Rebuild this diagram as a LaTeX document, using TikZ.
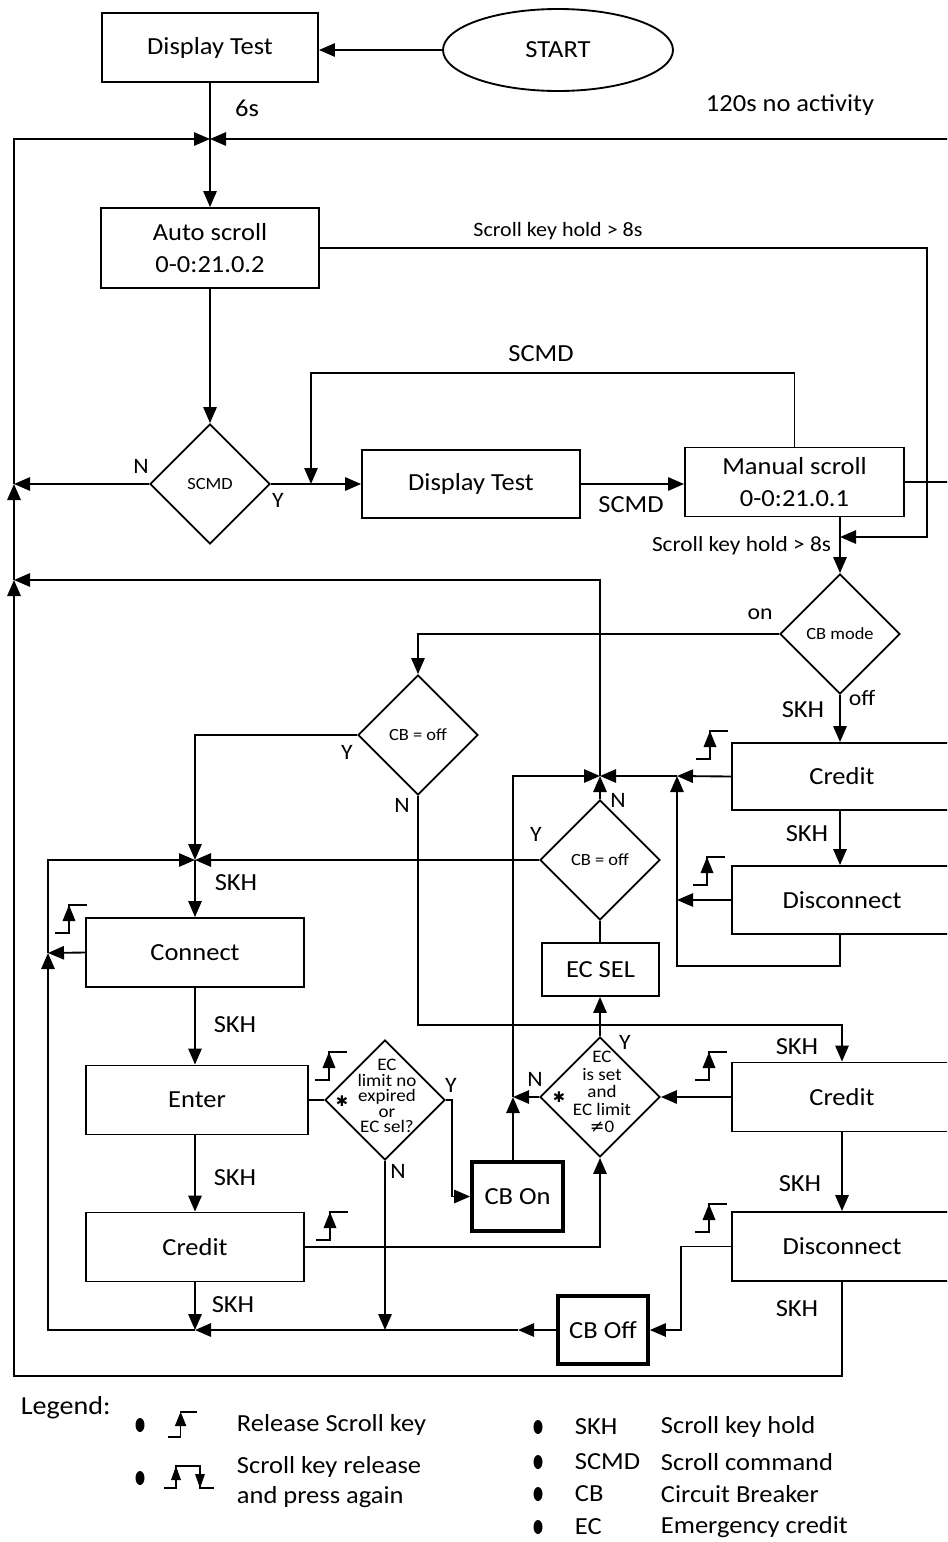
\documentclass[tikz,border=0pt]{standalone}
\usepackage{fontspec}
\setmainfont{Carlito}[FakeStretch=1.08]
\newfontfamily\djv{DejaVu Sans}
\usetikzlibrary{shapes.geometric,arrows.meta}
\newcommand\fbig{\fontsize{18.4}{22}\selectfont}
\newcommand\ftwo{\fontsize{18.4}{24}\selectfont}
\newcommand\flab{\fontsize{16.5}{19}\selectfont}
\newcommand\fsm{\fontsize{12.8}{15}\selectfont}
\newcommand\fskA{\fontsize{15.3}{18}\selectfont}
\newcommand\fskB{\fontsize{16.2}{19}\selectfont}
\newcommand\fdia{\fontsize{13.2}{11.6}\selectfont}
\newcommand\fdib{\fontsize{13.2}{13.1}\selectfont}
\newcommand\fleg{\fontsize{19.5}{22}\selectfont}
\begin{document}
\begin{tikzpicture}[x=0.75pt,y=-0.75pt,line width=1.4pt,
  arr/.style={-{Triangle[length=12pt,width=10pt]}},
  box/.style args={#1/#2}{draw,rectangle,minimum width=#1*0.75pt,minimum height=#2*0.75pt,inner sep=0pt,font=\fbig},
  tbox/.style args={#1/#2}{draw,rectangle,line width=2.8pt,minimum width=#1*0.75pt,minimum height=#2*0.75pt,inner sep=0pt,font=\fbig},
  dia/.style={draw,diamond,aspect=1,minimum width=90pt,minimum height=90pt,inner sep=0pt,font=\fsm},
  lab/.style={font=\flab,inner sep=0pt},
  skh/.style={font=\fbig,inner sep=0pt},
  relkey/.pic={
    \draw[line width=1.2pt] (0,0) -- (14,0) -- (14,-28) -- (32,-28);
    \fill (14,-28) -- (7.5,-12) -- (20.5,-12) -- cycle;},
  relpress/.pic={
    \draw[line width=1.2pt] (0,0) -- (12,0) -- (12,-22) -- (36,-22) -- (36,0) -- (50,0);
    \fill (12,-22) -- (7,-8) -- (17,-8) -- cycle;
    \fill (36,0) -- (31,-14) -- (41,-14) -- cycle;}
]
\fill[white] (0,0) rectangle (947,1542);
\useasboundingbox (0,0) rectangle (947,1542);
\clip (0,0) rectangle (947,1542);

% ---------- nodes ----------
\node[box=216/69] (dt1) at (210,47.5) {Display Test};
\node[draw,ellipse,minimum width=172.5pt,minimum height=61.5pt,inner sep=0pt,font=\fbig] (start) at (558,50) {START};
\node[box=218/80,align=center,font=\ftwo] (as) at (210,248) {Auto scroll\\0-0:21.0.2};
\node[dia] (scmd) at (210,484) {SCMD};
\node[box=218/68] (dt2) at (471,484) {Display Test};
\node[box=219/69,align=center,font=\ftwo] (ms) at (794.5,482) {Manual scroll\\0-0:21.0.1};
\node[dia] (cbm) at (840,634) {CB mode};
\node[box=220/67] (crr) at (842,776.5) {Credit};
\node[box=220/68] (dcr) at (842,900) {Disconnect};
\node[dia] (cbo1) at (418,735) {CB = off};
\node[dia] (cbo2) at (600,860) {CB = off};
\node[box=117/53] (ecsel) at (600.5,969.5) {EC SEL};
\node[dia] (ecd) at (600,1097) {};
\node[box=220/69] (cr2) at (842,1097) {Credit};
\node[box=220/69] (dc2) at (842,1246.5) {Disconnect};
\node[tbox=90/68] (cboff) at (603,1330) {CB Off};
\node[tbox=91/69] (cbon) at (517.5,1196.5) {CB On};
\node[dia] (eld) at (385,1100) {};
\node[box=218/69] (conn) at (195,952.5) {Connect};
\node[box=222/69] (ent) at (197,1100) {Enter};
\node[box=218/69] (cr1) at (195,1247) {Credit};

\node[font=\fdia,align=center,inner sep=0pt] (eldt) at (387,1096) {EC\\limit no\\expired\\or\\EC sel?};
\node[font=\fdib,align=center,inner sep=0pt] (ecdt) at (602,1092) {EC\\is set\\and\\EC limit\\{\djv ≠}0};
\node[font={\djv\fontsize{11}{11}\selectfont},inner sep=0pt] (star1) at (342,1101) {✱};
\node[font={\djv\fontsize{11}{11}\selectfont},inner sep=0pt] (star2) at (559,1097) {✱};

% ---------- coordinates ----------
\coordinate (j1) at (210,139);
\coordinate (j2) at (600,776);
\coordinate (j3) at (677,776);
\coordinate (j4) at (195,860);
\coordinate (j5) at (195,1330);
\coordinate (jN) at (513,1097);

% ---------- connectors ----------
\draw[arr] (start.west) -- (start.west -| dt1.east);
\draw (dt1.south) -- (j1);
\draw[arr] (960,139) -- (j1);
\draw[arr] (j1) -- (as.north);
\draw[arr] (dc2.south) |- (14,1376) -- (14,580);
\draw[arr] (14,580) -- (14,484);
\draw[arr] (14,484) -- (14,139) -- (j1);

\draw[arr] (as.east) -- (927,248) -- (927,537) -- (840,537);
\draw[arr] (as.south) -- (scmd.north);
\draw[arr] (scmd.west) -- (14,484);
\draw[arr] (scmd.east) -- (dt2.west);
\draw[arr] (ms.north) -- (794.5,373) -- (311,373) -- (311,484);
\draw[arr] (dt2.east) -- (dt2.east -| ms.west);
\draw (ms.east) -- (960,482);
\draw[arr] (cbm.north |- ms.south) -- (cbm.north);

\draw[arr] (cbm.west) -| (cbo1.north);
\draw[arr] (cbm.south) -- (cbm.south |- crr.north);
\draw[arr] (crr.west) -- (j3);
\draw[arr] (j3) -- (j2);
\draw[arr] (cbm.south |- crr.south) -- (cbm.south |- dcr.north);
\draw[arr] (dcr.west) -- (dcr.west -| j3);
\draw[arr] (cbm.south |- dcr.south) |- (677,966) -- (j3);
\draw[arr] (cbo2.north) -- (j2);
\draw[arr] (cbon.north -| jN) -- (jN);
\draw[arr] (jN) -- (513,776) -- (j2);
\draw[arr] (j2) -- (600,580) -- (14,580);

\draw[arr] (cbo1.west) -| (j4);
\draw[arr] (cbo1.south) -- (418,1025) -| (cr2.north);
\draw[arr] (cbo2.west) -- (j4);
\draw (cbo2.south) -- (cbo2.south |- ecsel.north);
\draw[arr] (ecd.north) -- (ecd.north |- ecsel.south);
\draw[arr] (ecd.west) -- (jN);
\draw[arr] (cr2.west) -- (ecd.east);
\draw[arr] (cr2.south) -- (dc2.north);
\draw[arr] (dc2.west) -- (681,1246.5) |- (cboff.east);
\draw[arr] (cboff.west) -- (518,1330);
\draw[arr] (518,1330) -- (j5);
\draw[arr] (eld.south) -- (eld.south |- j5);
\draw[arr] (cr1.south) -- (j5);
\draw[arr] (j5) -- (48,1330) -- (48,953);
\draw[arr] (conn.west) -- (48,953);
\draw[arr] (48,953) -- (48,860) -- (j4);
\draw[arr] (j4) -- (conn.north);
\draw[arr] (conn.south) -- (conn.south |- ent.north);
\draw[arr] (conn.south |- ent.south) -- (cr1.north);
\draw (ent.east) -- (eld.west);
\draw[arr] (eld.east) -- (452,1100) |- (cbon.west);
\draw[arr] (cr1.east) -| (ecd.south);

% ---------- release symbols ----------
\pic at (696,759) {relkey};
\pic at (693,885) {relkey};
\pic at (695,1080) {relkey};
\pic at (695,1232) {relkey};
\pic at (55,933) {relkey};
\pic at (315,1080) {relkey};
\pic at (316,1240) {relkey};

% ---------- labels ----------
\node[skh] (l6s) at (247,108) {6s};
\node[font=\fbig,inner sep=0pt] (l120) at (790,105) {120s no activity};
\node[font=\fskA,inner sep=0pt] (lsk1) at (558,231) {Scroll key hold > 8s};
\node[lab] (lN1) at (141,466) {N};
\node[lab] (lY1) at (278,500) {Y};
\node[skh] (lsc1) at (541,354) {SCMD};
\node[skh] (lsc2) at (631,505) {SCMD};
\node[font=\fskB,inner sep=0pt,anchor=east] (lsk2) at (832,546) {Scroll key hold > 8s};
\node[lab] (lon) at (760,614) {on};
\node[lab] (loff) at (862,698) {off};
\node[skh] (ls1) at (803,710) {SKH};
\node[lab] (lY2) at (347,752) {Y};
\node[lab] (lN2) at (402,805) {N};
\node[lab] (lN3) at (618,800) {N};
\node[lab] (lY3) at (536,834) {Y};
\node[skh] (ls2) at (807,834) {SKH};
\node[skh] (ls3) at (236,883) {SKH};
\node[skh] (ls4) at (235,1025) {SKH};
\node[skh] (ls5) at (235,1178) {SKH};
\node[skh] (ls6) at (233,1305) {SKH};
\node[skh] (ls7) at (797,1047) {SKH};
\node[skh] (ls8) at (800,1184) {SKH};
\node[skh] (ls9) at (797,1309) {SKH};
\node[lab] (lY4) at (451,1085) {Y};
\node[lab] (lN4) at (398,1171) {N};
\node[lab] (lN5) at (535,1079) {N};
\node[lab] (lY5) at (625,1042) {Y};

% ---------- legend ----------
\node[font=\fleg,inner sep=0pt,anchor=west] (leg) at (20,1408) {Legend:};
\fill (140,1425) ellipse [x radius=4.5, y radius=7];
\fill (140,1478) ellipse [x radius=4.5, y radius=7];
\pic[scale=0.9] at (168,1437) {relkey};
\pic at (164,1488) {relpress};
\node[font=\fbig,inner sep=0pt,anchor=west] (lg1) at (236,1425) {Release Scroll key};
\node[font=\fbig,inner sep=0pt,anchor=west,align=left] (lg2) at (236,1482) {Scroll key release\\and press again};
\foreach \yy in {1427,1462,1494,1527} \fill (538,\yy) ellipse [x radius=4.5, y radius=7];
\node[font=\fbig,inner sep=0pt,anchor=west] (ab1) at (574,1427) {SKH};
\node[font=\fbig,inner sep=0pt,anchor=west] (ab2) at (574,1462) {SCMD};
\node[font=\fbig,inner sep=0pt,anchor=west] (ab3) at (574,1494) {CB};
\node[font=\fbig,inner sep=0pt,anchor=west] (ab4) at (574,1527) {EC};
\node[font=\fbig,inner sep=0pt,anchor=west] (de1) at (660,1427) {Scroll key hold};
\node[font=\fbig,inner sep=0pt,anchor=west] (de2) at (660,1462) {Scroll command};
\node[font=\fbig,inner sep=0pt,anchor=west] (de3) at (660,1494) {Circuit Breaker};
\node[font=\fbig,inner sep=0pt,anchor=west] (de4) at (660,1527) {Emergency credit};
\end{tikzpicture}
\end{document}
